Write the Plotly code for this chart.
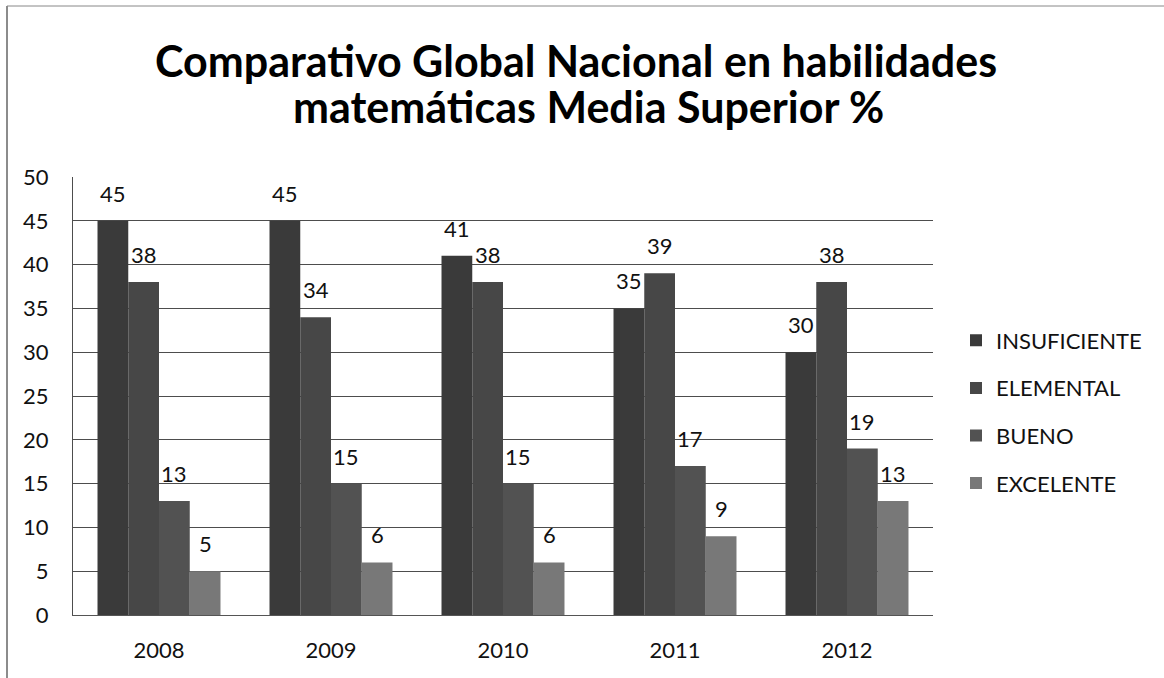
import plotly.graph_objects as go

# Data
years = ["2008", "2009", "2010", "2011", "2012"]
insuficiente = [45, 45, 41, 35, 30]
elemental = [38, 34, 38, 39, 38]
bueno = [13, 15, 15, 17, 19]
excelente = [5, 6, 6, 9, 13]

series_names = ["INSUFICIENTE", "ELEMENTAL", "BUENO", "EXCELENTE"]
series_values = [insuficiente, elemental, bueno, excelente]
series_colors = ["#3a3a3a", "#474747", "#525252", "#787878"]

W, H = 1164, 678
L, R, T, B = 73, 231, 177, 63
PW, PH = W - L - R, H - T - B

FONT = "Lato"
TXT = 22
BARGAP = 0.285

fig = go.Figure()
for name, vals, col in zip(series_names, series_values, series_colors):
    fig.add_trace(go.Bar(
        x=years, y=vals, name=name,
        marker=dict(color=col, line=dict(width=0)),
        legendgroup=name,
    ))


def px_x(px):
    return (px - L) / PW


def px_y(py):
    return (H - B - py) / PH


# value labels above each bar, offset to the bar's slot inside its group
cat_px = PW / len(years)
bar_px = cat_px * (1 - BARGAP) / len(series_names)
annotations = []
for i, vals in enumerate(series_values):
    shift = (i - (len(series_names) - 1) / 2) * bar_px
    for j, v in enumerate(vals):
        annotations.append(dict(
            text=str(v), x=j, y=v, xref="x", yref="y",
            xanchor="center", yanchor="bottom", xshift=shift, yshift=12,
            showarrow=False, font=dict(family=FONT, size=TXT, color="#111111"),
        ))

annotations += [
    dict(text="<b>Comparativo Global Nacional en habilidades</b>",
         x=px_x(576), y=px_y(60), xref="paper", yref="paper",
         xanchor="center", yanchor="middle", showarrow=False,
         font=dict(family=FONT, size=43, color="#000000")),
    dict(text="<b>matemáticas Media Superior %</b>",
         x=px_x(588), y=px_y(107), xref="paper", yref="paper",
         xanchor="center", yanchor="middle", showarrow=False,
         font=dict(family=FONT, size=43, color="#000000")),
]

fig.update_layout(
    width=W, height=H,
    margin=dict(l=L, r=R, t=T, b=B),
    paper_bgcolor="white", plot_bgcolor="white",
    barmode="group", bargap=BARGAP, bargroupgap=0,
    font=dict(family=FONT, color="#111111"),
    showlegend=True,
    legend=dict(
        x=px_x(956), y=px_y(412), xanchor="left", yanchor="middle",
        font=dict(family=FONT, size=TXT, color="#111111"),
        tracegroupgap=16, itemwidth=30,
        bgcolor="rgba(0,0,0,0)",
    ),
    xaxis=dict(
        type="category", range=[-0.5, len(years) - 0.5],
        showgrid=False, showline=True, linecolor="#555555", linewidth=1,
        tickfont=dict(family=FONT, size=TXT, color="#111111"),
        ticks="", ticklabelstandoff=16,
    ),
    yaxis=dict(
        range=[0, 50], dtick=5, showgrid=True, gridcolor="#4d4d4d", gridwidth=1,
        showline=True, linecolor="#4d4d4d", linewidth=1,
        zeroline=True, zerolinecolor="#4d4d4d", zerolinewidth=1,
        tickfont=dict(family=FONT, size=TXT, color="#111111"),
        ticks="", ticklabelstandoff=19,
    ),
    annotations=annotations,
    shapes=[
        # outer chart frame (left and top edges)
        dict(type="line", xref="paper", yref="paper",
             x0=px_x(7), x1=px_x(7), y0=px_y(6), y1=px_y(H),
             line=dict(color="#666666", width=1.5)),
        dict(type="line", xref="paper", yref="paper",
             x0=px_x(7), x1=px_x(W), y0=px_y(6), y1=px_y(6),
             line=dict(color="#888888", width=1)),
    ],
)

fig.write_html("out.html")
